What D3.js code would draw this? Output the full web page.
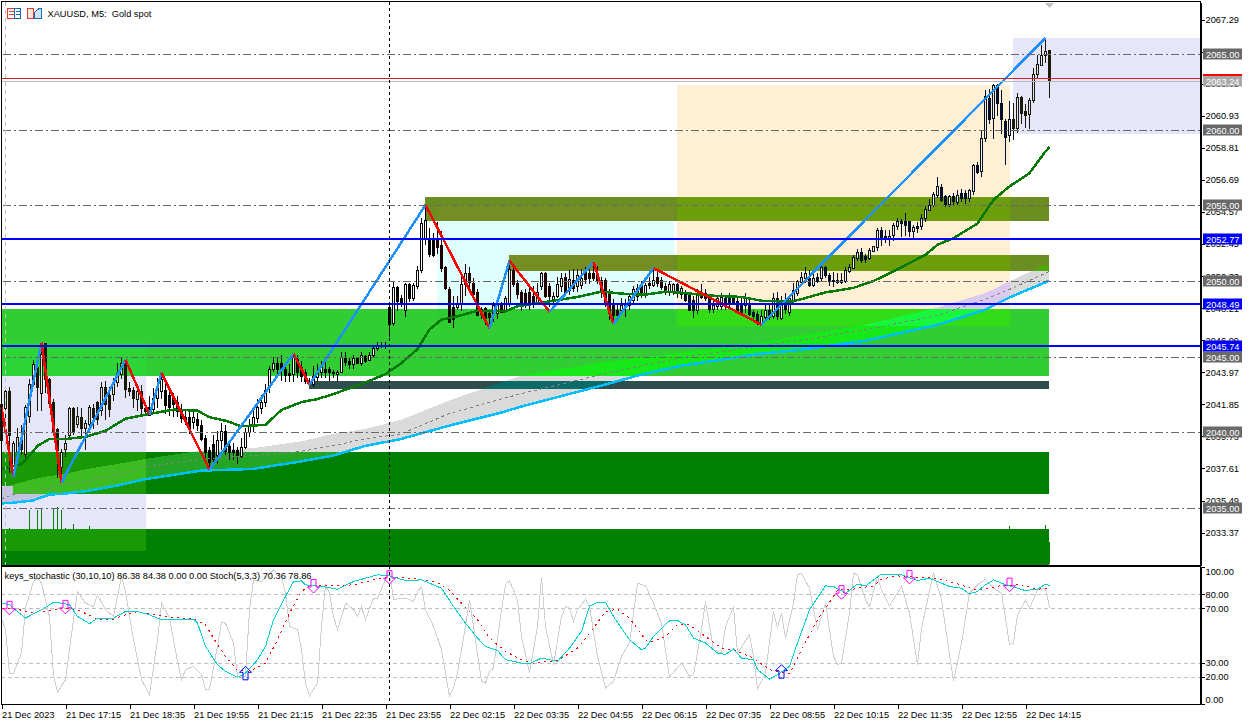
<!DOCTYPE html>
<html>
<head>
<meta charset="utf-8">
<script src="https://cdn.jsdelivr.net/npm/d3@7"></script>
<style>
html, body { margin: 0; padding: 0; background: #fff; overflow: hidden; }
text { font-family: "Liberation Sans", sans-serif; font-size: 9.25px; fill: #000; }
</style>
</head>
<body>
<svg id="drawing_region"></svg>
<script>
// candles, one entry per M5 bar
const opens = [
  2041.9,2041.6,2042.7,2037.3,2038.8,2039.7,2038.6,2041.1,2043.2,2044.3,
  2042.6,2045.9,2043.5,2042,2040.2,2037.7,2038.9,2039.8,2041.6,2040.6,
  2041,2040.3,2040.6,2041.6,2042,2041.5,2043,2042.5,2042.5,2043.3,
  2043.9,2044.8,2042.9,2042.8,2042.2,2042.7,2041.6,2041.7,2041.6,2042.3,
  2042.7,2042.8,2042.5,2042.3,2042,2041.5,2041,2041,2040.7,2040.9,
  2040.5,2039.6,2038.8,2039.2,2038.5,2039.5,2040.1,2039.1,2038.8,2038.8,
  2038.4,2039,2040,2040.5,2041,2041.6,2042,2043,2044.2,2044.6,
  2044.6,2044.2,2043.9,2043.9,2044.85,2044.3,2044,2043.4,2043.2,2043.7,
  2044,2044.2,2044.2,2044,2043.9,2044,2045,2044.7,2044.5,2044.9,
  2044.6,2045.05,2044.8,2045.1,2045.6,2045.7,2045.75,2048.3,2047.2,2049.6,
  2048.9,2048.1,2049.8,2048.9,2049.7,2050.75,2052.8,2052.8,2052.8,2052.8,
  2052.4,2050.9,2049.5,2048.3,2048.3,2048.55,2049.8,2050.5,2049.9,2049.3,
  2048.15,2048.2,2047.9,2047.8,2047.9,2048.45,2048.05,2048.55,2050.75,2049.85,
  2049.25,2049.2,2049.25,2049,2048.65,2049.65,2050.5,2049.65,2048.7,2049,
  2049.65,2050.25,2049.4,2050.1,2049.65,2049.75,2050.65,2050.55,2050.5,2050.5,
  2050.1,2050.1,2049.2,2048.45,2048.1,2048.1,2048.3,2048.4,2048.8,2049,
  2049.65,2049.2,2049.85,2049.75,2050.25,2050.1,2049.65,2049.3,2049.3,2049.8,
  2049.15,2049.2,2049.2,2048.75,2048.1,2049.3,2049.2,2049,2048.15,2048.35,
  2048.35,2048.9,2048.9,2048.9,2048.65,2048.45,2048.45,2048.45,2047.95,2047.8,
  2047.2,2047.65,2048.1,2047.7,2048.9,2047.55,2048.65,2048,2048.75,2049.2,
  2050,2050.2,2050.2,2049.75,2050.3,2050.2,2050.95,2050.4,2050.1,2050.1,
  2050.1,2050,2050.65,2050.9,2051.5,2051.9,2051.65,2051.5,2052,2052.3,
  2053.4,2053,2052.8,2053.05,2053.65,2053.95,2053.95,2053.95,2053.3,2053.65,
  2053.6,2054.15,2054.75,2055.05,2055.7,2056.25,2055.6,2055.05,2055.6,2055.25,
  2055.8,2055.8,2055.5,2055.95,2057.7,2057.25,2059.45,2062.1,2060.75,2062.95,
  2061.75,2060.6,2059.65,2060.7,2060.1,2062.15,2061.25,2061.1,2062,2063.7,
  2064.3,2064.95,2065.25
];
const closes = [
  2039.5,2042.7,2039.8,2039.3,2039.7,2038.9,2041.7,2043.2,2044.5,2043,
  2045.2,2043.5,2041.9,2040.1,2038.8,2038.7,2039.3,2041.6,2040,2041.1,
  2040.3,2040.6,2041.7,2041,2040.9,2043,2041.9,2041.6,2043.3,2043.9,
  2044.6,2042.9,2042.7,2042.3,2042.7,2041.6,2041.4,2041.2,2042.3,2043,
  2043.5,2041.8,2041.7,2041.9,2041.4,2041,2040.9,2040.2,2041,2040.5,
  2039.6,2038.7,2038,2038.2,2039.5,2040.1,2038.8,2038.7,2038.7,2038.5,
  2039,2040,2040.4,2041,2041.7,2042,2042.8,2044.2,2044.6,2044.2,
  2044.2,2043.8,2043.8,2045,2044,2043.7,2043.4,2043.2,2043.7,2044,
  2044.3,2044,2044,2043.95,2044,2045,2044.7,2044.5,2044.9,2044.6,
  2045.1,2044.75,2045.1,2045.55,2045.7,2045.75,2045.8,2047.2,2049.6,2048.65,
  2048.6,2049.8,2048.9,2049.75,2050.75,2053.85,2054.05,2051.8,2051.75,2052.25,
  2050.9,2049.5,2047.35,2047.5,2048.55,2049.8,2050.5,2049.9,2049.2,2047.8,
  2047.8,2047.55,2047.65,2048.4,2048.4,2048,2048.9,2050.8,2049.85,2049.1,
  2048.3,2048.55,2048.55,2048.55,2049.3,2050.5,2049,2049,2049,2049.8,
  2050.2,2049.25,2050.15,2049.55,2050.4,2050.2,2050.15,2050.2,2050.15,2050.05,
  2049.3,2048.55,2047.9,2047.8,2047.8,2048.45,2048.55,2049,2049.5,2049.55,
  2049.2,2049.75,2049.75,2050.1,2049.85,2049.65,2049.3,2049.8,2049.8,2049.3,
  2049.55,2048.75,2048.05,2048.1,2049.2,2049,2048.9,2048.15,2048.4,2048.9,
  2048.95,2048.35,2048.55,2048.65,2048,2047.9,2048.95,2047.85,2047.7,2047.25,
  2047.7,2048.1,2047.65,2048.9,2047.7,2048.65,2048.1,2048.9,2049.4,2050,
  2050.3,2050.5,2049.75,2050.2,2050.05,2050.95,2050.4,2050,2050.05,2050,
  2049.95,2050.75,2050.9,2051.6,2051.9,2051.4,2051.45,2052.05,2052.3,2053.4,
  2052.9,2052.8,2053,2053.7,2053.95,2053.8,2053.7,2053.3,2053.55,2053.55,
  2054.15,2054.75,2055.05,2055.75,2056.3,2055.4,2055.05,2055.6,2055.25,2055.7,
  2055.5,2055.5,2056,2057.7,2057.25,2059.45,2062.25,2060.7,2062.95,2061.75,
  2060.7,2059.55,2060.7,2060.1,2062.15,2061.1,2061,2062,2063.7,2064.35,
  2064.95,2065.2,2063.24
];
const highs = [
  2042.1,2042.9,2043,2039.4,2040.3,2040.5,2041.8,2043.5,2044.8,2045,
  2045.93,2045.9,2043.6,2042.2,2040.3,2038.9,2039.8,2041.7,2041.7,2041.7,
  2041.6,2040.8,2041.8,2041.9,2042.1,2043.3,2043.4,2043,2043.6,2044.6,
  2045,2044.8,2043.3,2043,2043.1,2043.1,2041.9,2042.4,2042.9,2043.6,
  2043.94,2043.5,2043,2042.6,2042.4,2041.9,2041.4,2041.5,2041.4,2041.3,
  2040.8,2039.8,2039,2039.8,2040.1,2040.6,2040.5,2039.4,2039.3,2039,
  2039.6,2040.3,2040.9,2041.6,2042.2,2042.5,2043.2,2044.4,2045,2045,
  2045.1,2044.6,2044.5,2045.2,2045.1,2044.7,2044.2,2043.6,2044.4,2044.5,
  2044.7,2044.7,2044.3,2044.1,2044.1,2045.3,2045.3,2044.9,2045.1,2045,
  2045.3,2045.1,2045.3,2045.7,2046,2046,2046,2048.4,2050,2049.7,
  2049.1,2049.9,2049.9,2049.9,2051,2054.2,2055.03,2053.5,2053.2,2053.9,
  2053.3,2051,2049.6,2049,2049,2050.3,2051.1,2050.9,2050.2,2049.5,
  2048.3,2048.3,2048.1,2048.6,2048.9,2048.6,2049,2051.34,2051.1,2050.1,
  2049.4,2049.5,2049.8,2049.7,2049.9,2050.6,2050.6,2049.9,2049.3,2050.3,
  2050.5,2050.5,2050.75,2050.8,2050.8,2050.8,2050.9,2050.8,2051.26,2051,
  2050.3,2050.2,2049.5,2048.8,2048.5,2048.9,2048.8,2049.2,2049.7,2049.8,
  2050,2049.9,2050.3,2050.86,2050.8,2050.3,2049.9,2050,2049.85,2049.9,
  2049.7,2049.4,2049.3,2049,2049.5,2049.8,2049.5,2049.1,2048.7,2049.1,
  2049.2,2049.1,2049.2,2049.1,2048.9,2048.9,2049.2,2048.9,2048.1,2048,
  2048.1,2048.5,2048.5,2049.2,2049.3,2049,2049.2,2049.1,2049.9,2050.1,
  2050.6,2050.9,2050.7,2050.7,2050.5,2051,2051,2050.5,2050.6,2050.5,
  2050.5,2050.9,2051.1,2051.7,2052.1,2052.2,2051.8,2052.2,2052.35,2053.5,
  2053.55,2053.4,2053.4,2053.85,2054.2,2054.1,2054.5,2054,2053.7,2053.9,
  2054.4,2054.95,2055.4,2055.9,2056.9,2056.4,2055.7,2055.7,2055.8,2056,
  2056.1,2056,2056.1,2057.75,2057.9,2059.9,2062.6,2062.7,2063,2063,
  2062.6,2060.7,2061.9,2061.8,2062.4,2062.25,2061.7,2062.1,2064.1,2064.95,
  2065.6,2066.07,2065.3
];
const lows = [
  2038.5,2040.4,2037.3,2037.07,2038.4,2038.5,2038.3,2040.6,2043,2041.4,
  2041.4,2042.6,2041.6,2039.9,2037,2036.67,2038.4,2039.5,2039.8,2040.3,
  2039.7,2038.8,2040.4,2040.2,2040.5,2041.1,2040.8,2041,2042.1,2043,
  2043.5,2042.3,2042.4,2041.6,2041.4,2041.1,2041.1,2041.17,2041.3,2041.6,
  2042.2,2041.2,2041.1,2041,2041,2040.6,2040.5,2039.9,2040.2,2040.1,
  2039.4,2038.3,2037.53,2037.8,2037.9,2038.8,2038.5,2038.2,2038.2,2037.9,
  2038.3,2038.9,2039.7,2040,2040.6,2041.2,2041.7,2042.6,2044,2043.8,
  2043.4,2043.3,2043.3,2043.3,2043.6,2043.3,2043.2,2043.15,2043,2043.4,
  2043.6,2043.6,2043.4,2043.6,2043.3,2043.9,2044.4,2044.2,2044.2,2044.5,
  2044.4,2044.6,2044.7,2045,2045.4,2045.6,2045.5,2046.3,2047,2048,
  2048.3,2047.6,2048.6,2048.7,2049.5,2050.5,2052.4,2051.6,2051.6,2051.8,
  2050.6,2049.4,2047.3,2046.9,2048.1,2048,2049,2049.3,2049,2047.7,
  2047.5,2047.1,2046.87,2047.3,2047.5,2047.9,2047.9,2048.3,2049.6,2048.8,
  2048,2048.2,2048.1,2048.2,2048.5,2049.4,2048.9,2048.3,2048.3,2048.9,
  2049.3,2049,2049.1,2049.3,2049.3,2049.5,2049.8,2049.8,2050,2049.8,
  2048.9,2048.3,2047.4,2047.16,2047.5,2047.8,2047.6,2048.1,2048.5,2048.7,
  2048.9,2048.9,2049.5,2049.6,2049.6,2049.4,2049.1,2049,2049.1,2048.9,
  2048.8,2048.6,2048,2047.55,2047.8,2048.8,2048.7,2047.9,2047.9,2048.1,
  2048.1,2048.1,2048.3,2048.4,2047.9,2047.8,2047.9,2047.7,2047.4,2047.1,
  2047.11,2047.4,2047.4,2047.5,2047.4,2047.4,2047.8,2047.7,2048.6,2049,
  2049.7,2049.9,2049.6,2049.6,2049.9,2050,2050.2,2049.7,2049.6,2049.8,
  2049.8,2049.85,2050.5,2050.8,2051.3,2051.2,2051.2,2051.4,2051.9,2052,
  2052.3,2052.5,2052.3,2052.65,2053.4,2052.9,2053,2052.9,2052.8,2053.2,
  2053.4,2053.9,2054.6,2054.9,2055.5,2055.2,2054.9,2054.9,2055,2055,
  2055.25,2055.1,2055.2,2055.7,2057.1,2056.9,2059.2,2060.4,2059.4,2060.9,
  2059.7,2057.65,2059.2,2059.3,2059.8,2060.4,2060.1,2060.05,2061.75,2063.45,
  2064.25,2064.4,2062.1
];

// visible tick volumes at the foot of the main pane
const volumeBars = [2,3,7,9,10,13,14,15,16,18,22,252,261,262];
const volumeValues = [360,355,540,545,550,560,570,540,360,400,380,380,390,220];

// green moving average
const maBars = [0,5,7,9,12,16,21,26,31,36,43,49,52,56,60,66,70,75,79,83,91,96,100,104,107,110,114,119,126,129,137,144,150,156,161,166,171,178,185,190,195,198,206,213,218,223,231,234,238,244,248,252,257,261,262];
const maValues = [2037.58,2037.9,2038.46,2039.1,2039.56,2039.56,2039.7,2040.1,2040.9,2041.17,2041.5,2041.43,2041,2040.77,2040.4,2040.5,2041.48,2042,2042.2,2042.53,2043.3,2043.85,2044.58,2045.5,2046.8,2047.45,2047.67,2048.04,2048,2048.33,2048.66,2048.95,2049.3,2049.15,2049.1,2049.3,2049.2,2049.03,2048.95,2048.7,2048.65,2048.66,2049.25,2049.55,2050,2050.64,2051.74,2052.4,2052.84,2053.8,2055.37,2056.26,2057.14,2058.57,2058.85];

// slow average ribbon: upper edge, dashed middle, light blue lower edge
const ribbonBars = [0,3,8,12,16,21,29,36,50,63,75,83,91,100,112,125,130,150,160,170,190,200,216,234,246,252,262];
const ribbonUpper = [2036.37,2036.54,2036.9,2037.1,2037.25,2037.55,2037.9,2038.24,2038.79,2038.95,2039.4,2039.89,2040.22,2040.83,2042.1,2043.3,2043.74,2044.6,2044.95,2045.26,2045.93,2046.4,2047.1,2048.24,2049.2,2049.96,2051.2];
const ribbonMiddle = [2035.6,2035.88,2036.1,2036.3,2036.54,2036.75,2037.2,2037.7,2038.24,2038.46,2038.74,2039.12,2039.56,2039.89,2041.23,2042.2,2042.55,2043.81,2044.4,2044.93,2045.73,2046.1,2046.78,2047.71,2048.8,2049.43,2050.62];
const ribbonLower = [2035.3,2035.35,2035.5,2035.88,2035.95,2036.1,2036.48,2036.9,2037.47,2037.58,2038.08,2038.46,2039.1,2039.56,2040.44,2041.3,2041.7,2043.08,2043.81,2044.4,2045.2,2045.46,2046.05,2047.1,2048.1,2048.9,2050.02];

// zigzag swing points
const zigBars = [0,3,10,15,31,37,40,52,73,77,106,122,127,137,148,153,163,190,261];
const zigPrices = [2041.63,2037.07,2045.93,2036.67,2044.8,2041.17,2043.94,2037.53,2045.2,2043.15,2055.03,2046.87,2051.34,2047.97,2051.26,2047.16,2050.86,2047.11,2066.07];

// zones: first bar, last bar, top price, bottom price
const zoneFrom = [0,0,3,0,77,0,109,106,127,169,253];
const zoneTo = [262,3,262,36.25,262,262,168.25,262,262,252.25,299.75];
const zoneTop = [2048.17,2038.72,2038.72,2045.99,2043.41,2033.63,2055.03,2055.58,2051.74,2062.98,2066.1];
const zoneBottom = [2043.74,2036.43,2035.9,2032.18,2042.88,2031.23,2047.05,2053.99,2050.68,2047.05,2059.7];
const zoneColor = [0x32CD32,0x008000,0x008000,0xE6E6FA,0x2F4F4F,0x008000,0xE0FFFF,0x6B8E23,0x6B8E23,0xFFEFD5,0xE6E6FA];
const paleZones = [3,6,9,10];

const roundLevels = [2065,2060,2055,2050,2045,2040,2035];
const supportLevels = [2052.77,2048.49,2045.74];
const bidPrice = 2063.24;
const askPrice = 2063.33;
const priceTicks = [2067.29,2065.17,2063.05,2060.93,2058.81,2056.69,2054.57,2052.45,2050.33,2048.21,2046.09,2043.97,2041.85,2039.73,2037.61,2035.49,2033.37];

const timeBars = [0,16,32,48,64,80,96,112,128,144,160,176,192,208,224,240,256];
const timeLabels = ['21 Dec 2023','21 Dec 17:15','21 Dec 18:35','21 Dec 19:55','21 Dec 21:15','21 Dec 22:35','21 Dec 23:55','22 Dec 02:15','22 Dec 03:35','22 Dec 04:55','22 Dec 06:15','22 Dec 07:35','22 Dec 08:55','22 Dec 10:15','22 Dec 11:35','22 Dec 12:55','22 Dec 14:15'];
const crosshairBar = 97;

// stochastic pane
const osLevels = [80,70,30,20];
const osTicks = [100,80,70,30,20,0];
const stochBars = [0,1,2,3,5,6,8,9,10,12,13,14,16,18,19,21,23,24,26,28,30,31,33,34,35,37,39,40,42,44,45,46,48,50,51,52,54,55,56,58,59,61,62,63,65,68,70,71,72,74,75,76,77,79,80,81,82,83,84,86,88,89,90,91,93,94,97,98,100,101,103,104,
  105,106,108,110,111,112,113,114,116,117,118,120,121,122,123,125,126,127,129,130,132,134,135,136,138,140,141,142,143,144,146,147,149,151,153,155,157,159,161,163,165,167,170,172,173,175,176,178,180,181,183,184,187,188,189,191,193,194,195,196,198,199,200,202,204,206,208,
  209,210,212,213,214,216,217,219,220,222,225,227,229,230,233,235,238,240,242,244,246,248,250,251,252,253,254,256,257,259,261,262];
const stochValues = [62.7,54.2,22.6,22.6,37.2,70,89.4,91.8,88.2,63.9,20.2,8.5,17.7,61.5,82.1,73.6,71.2,79.7,68.8,63.9,93,82.1,46.9,32.3,17.7,6.8,46.9,73.6,62.7,31.1,17.7,25,27.5,21.4,10.9,10.9,42,59.5,59,44.5,20.2,20.2,68.8,90.6,89.4,97.9,93,80.9,56.6,54.2,39.6,15.3,6.1,15.3,56.6,87,80.9,63.9,54.2,73.6,68.8,63.9,71.2,61.5,77.3,77.3,97.9,76,77.3,77.3,74.8,82.1,
  85.8,68.8,56.6,39.6,22.6,5.6,11.7,22.6,56.6,76,56.6,16.5,15.3,23.8,26.2,68.8,87,89.9,76,49.3,22.6,56.6,93,56.6,28.7,63.9,71.2,70,60.3,68.8,76.5,71.2,34.7,11.7,16.5,34.7,44.5,88.2,86.2,73.6,59,19.7,29.9,20.2,21.4,54.2,74.8,39.6,37.2,56.6,71.2,37.2,50.5,34.7,10.9,22.6,67.5,55.4,66.3,48.1,73.6,94.3,95.5,84.5,54.2,73.6,34.7,
  28.7,29.9,66.3,95.5,94.3,76,71.2,93,83.3,71.7,85.8,66.3,28.7,55.4,96,76,16.5,44.5,80.9,87,91.1,84.5,80.9,62.7,43.2,44.5,65.1,75.6,70,83.3,84.5,70.36];

const keysBars = [0,2,4,6,8,10,13,15,17,19,22,24,28,31,34,37,40,48,49,51,54,56,59,61,64,66,68,71,73,75,76,80,84,88,94,97,101,105,
  107,110,113,116,117,119,121,124,126,130,132,135,139,142,145,147,149,151,153,157,160,161,163,167,169,171,173,176,179,181,183,185,188,189,192,194,197,199,202,206,208,
  211,214,216,220,225,229,232,237,240,242,244,246,248,251,256,259,261,262];
const keysValues = [73.6,72.4,67.5,62.7,65.8,68.8,74.1,73.6,72.4,63.9,58.6,62.7,62.7,67.5,67.5,65.1,61.5,62,59,42,28.7,23.8,19.4,22.6,32.3,42,61.5,78.5,89.4,89.9,87,85.8,83.8,89.4,94.3,93.5,90.1,90.6,
  88.2,84.5,71.2,59,55.4,48.1,42,39.1,32.3,29.9,29.4,33.5,31.1,40.8,53,71.2,74.3,74.3,63.9,46.9,39.6,40.8,49.3,60.7,61,57.8,48.1,44.5,37.2,36.2,40.1,33.5,32.3,25,18.2,21.4,27.5,44.5,68.8,86.2,85.8,
  80.9,87.5,86.2,94.8,94.3,90.1,91.8,85.8,84.5,80.4,82.1,87,90.6,87,82.8,83.8,87.5,86.38];

const signalBars = [0,3,7,11,15,19,24,28,31,34,39,42,48,51,53,56,59,62,66,69,72,75,77,83,88,93,97,105,
  109,112,115,119,122,126,130,133,139,144,148,151,154,157,161,162,166,169,172,176,180,184,188,192,197,200,204,208,
  209,212,214,218,220,224,229,234,239,244,250,255,259,262];
const signalValues = [70,70,66.8,67.5,70,68.8,62,62,65.1,67.5,65.1,63.4,62,57.8,48.1,34.7,24.5,23.8,29.9,46.9,66.3,82.1,86.2,86.2,87,90.6,93,91.1,
  88.7,82.8,73.6,61.5,48.1,38.4,32.3,29.9,31.6,40.8,55.4,67.5,69.2,62.7,46.9,44.9,49.3,57.8,57.8,49.3,40.8,38.4,33.5,25,22.1,39.6,61.5,78.5,
  83.3,83.3,84.5,86.2,91.1,93.5,92.6,91.8,87.7,82.8,86.5,87,83.8,84.38];

const downArrowBars = [2,16,78,97,210,227,252];
const downArrowValues = [65.1,65.8,81,87.5,76.5,87.7,82];
const upArrowBars = [61,195];
const upArrowValues = [27.5,28.7];

const width = 1255;
const height = 722;
const plotLeft = 1;
const plotRight = 1200;
const mainTop = 2;
const mainBottom = 565;
const subTop = 567;
const subBottom = 704;

const svg = d3.select('#drawing_region')
  .attr('width', width)
  .attr('height', height)
  .style('display', 'block');

const xscale = d3.scaleLinear().domain([0, 262]).range([1, 1049]);
const yscale = d3.scaleLinear().domain([2031.23, 2068.447]).range([mainBottom, mainTop]);
const oscale = d3.scaleLinear().domain([0, 100]).range([subBottom, subTop]);
const volscale = d3.scaleLinear().domain([0, 600]).range([mainBottom - 1, 504]);

// the terminal paints rectangles by xor against the inverted colour
const mask = c => ~c & 0xFFFFFF;
const hex = c => '#' + c.toString(16).padStart(6, '0');

const zones = zoneFrom.map((d, i) => ({
  x0: Math.round(xscale(d)), x1: Math.round(xscale(zoneTo[i])),
  y0: Math.round(yscale(zoneTop[i])), y1: Math.round(yscale(zoneBottom[i])),
  color: zoneColor[i]
}));

const xedges = Array.from(new Set([plotLeft, plotRight].concat(zones.flatMap(z => [z.x0, z.x1])))).sort(d3.ascending);
const yedges = Array.from(new Set([mainTop, mainBottom].concat(zones.flatMap(z => [z.y0, z.y1])))).sort(d3.ascending);

const cells = [];
d3.pairs(xedges).forEach(([a, b]) => {
  d3.pairs(yedges).forEach(([c, d]) => {
    let color = 0xFFFFFF;
    zones.forEach(z => {
      if (z.x0 <= a && z.x1 >= b && z.y0 <= c && z.y1 >= d) color ^= mask(z.color);
    });
    cells.push({x0: a, x1: b, y0: c, y1: d, color: color});
  });
});

const defs = svg.append('defs');
const backdrop = svg.append('g').attr('shape-rendering', 'crispEdges');

backdrop.selectAll('rect').data(cells).enter().append('rect')
  .attr('x', d => d.x0)
  .attr('y', d => d.y0)
  .attr('width', d => d.x1 - d.x0)
  .attr('height', d => d.y1 - d.y0)
  .attr('fill', d => hex(d.color));

// ribbon, split over the cells so it can xor with what is under it
const ribbonColor = 0xDADADA;
const ribbonData = ribbonBars.map((d, i) => ({bar: d, top: ribbonUpper[i], mid: ribbonMiddle[i], low: ribbonLower[i]}));
const ribbonArea = d3.area()
  .x(d => xscale(d.bar))
  .y0(d => yscale(d.low))
  .y1(d => yscale(d.top));
const ribbonLayer = svg.append('g').attr('shape-rendering', 'crispEdges');
cells.filter(d => d.x0 < xscale(262) && d.y0 < yscale(2035) && d.y1 > yscale(2052)).forEach((d, i) => {
  const id = 'cell' + i;
  defs.append('clipPath').attr('id', id).append('rect')
    .attr('x', d.x0).attr('y', d.y0)
    .attr('width', d.x1 - d.x0).attr('height', d.y1 - d.y0);
  ribbonLayer.append('path')
    .attr('clip-path', `url(#${id})`)
    .attr('d', ribbonArea(ribbonData))
    .attr('fill', hex(d.color ^ mask(ribbonColor)));
});

// volumes, only the part above the lower green zone shows
const volumeFoot = d => d === 262 ? mainBottom - 1 : zones[5].y0;
svg.append('g').selectAll('line').data(volumeBars).enter().append('line')
  .attr('x1', d => xscale(d) + 0.5)
  .attr('x2', d => xscale(d) + 0.5)
  .attr('y1', d => volumeFoot(d))
  .attr('y2', (d, i) => volscale(volumeValues[i]))
  .attr('stroke', '#008000')
  .attr('shape-rendering', 'crispEdges');

// level lines and the two session markers
const levels = svg.append('g').attr('shape-rendering', 'crispEdges');
levels.selectAll('line.round').data(roundLevels).enter().append('line')
  .attr('class', 'round')
  .attr('x1', plotLeft + 2).attr('x2', plotRight)
  .attr('y1', d => Math.round(yscale(d)) + 0.5)
  .attr('y2', d => Math.round(yscale(d)) + 0.5)
  .attr('stroke', '#696969')
  .attr('stroke-dasharray', '8,3,2,3');

levels.append('line')
  .attr('x1', 5.5).attr('x2', 5.5)
  .attr('y1', mainTop).attr('y2', mainBottom)
  .attr('stroke', '#c0c0c0')
  .attr('stroke-dasharray', '4,4');

// candles pick up the tint of any pale zone they sit in
const paleMask = (x, y) => {
  let m = 0;
  paleZones.forEach(i => {
    const z = zones[i];
    if (x >= z.x0 && x < z.x1 && y >= z.y0 && y < z.y1) m ^= mask(z.color);
  });
  return m;
};

const bars = opens.map((d, i) => ({bar: i, open: d, high: highs[i], low: lows[i], close: closes[i]}));
const candles = svg.append('g').attr('shape-rendering', 'crispEdges');
const tint = d => paleMask(xscale(d.bar), yscale((d.open + d.close) / 2));

candles.selectAll('line').data(bars).enter().append('line')
  .attr('x1', d => xscale(d.bar) + 0.5)
  .attr('x2', d => xscale(d.bar) + 0.5)
  .attr('y1', d => yscale(d.high))
  .attr('y2', d => yscale(d.low))
  .attr('stroke', d => hex(tint(d)));

candles.selectAll('rect').data(bars).enter().append('rect')
  .attr('x', d => xscale(d.bar) - 0.5)
  .attr('y', d => Math.round(yscale(Math.max(d.open, d.close))) + 0.5)
  .attr('width', 2)
  .attr('height', d => Math.max(1, Math.round(Math.abs(yscale(d.open) - yscale(d.close)))))
  .attr('stroke', d => hex(tint(d)))
  .attr('fill', d => d.close >= d.open ? hex(0xFFFFFF ^ tint(d)) : hex(tint(d)));

// ribbon middle
svg.append('path')
  .attr('d', d3.line().x(d => xscale(d.bar)).y(d => yscale(d.mid))(ribbonData))
  .attr('fill', 'none')
  .attr('stroke', '#808080')
  .attr('stroke-dasharray', '3,3')
  .attr('shape-rendering', 'crispEdges');

// light blue slow average
svg.append('path')
  .attr('d', d3.line().x(d => xscale(d.bar)).y(d => yscale(d.low))(ribbonData))
  .attr('fill', 'none')
  .attr('stroke', '#00bfff')
  .attr('stroke-width', 2.5)
  .attr('shape-rendering', 'crispEdges');

// green average
svg.append('path')
  .attr('d', d3.line().x((d, i) => xscale(d) + 0.5).y((d, i) => yscale(maValues[i]))(maBars))
  .attr('fill', 'none')
  .attr('stroke', '#067a06')
  .attr('stroke-width', 2.5)
  .attr('shape-rendering', 'crispEdges');

// zigzag legs
const legs = d3.pairs(d3.zip(zigBars, zigPrices));
svg.append('g').selectAll('line').data(legs).enter().append('line')
  .attr('x1', d => xscale(d[0][0]) + 0.5)
  .attr('y1', d => yscale(d[0][1]))
  .attr('x2', d => xscale(d[1][0]) + 0.5)
  .attr('y2', d => yscale(d[1][1]))
  .attr('stroke', d => d[1][1] > d[0][1] ? '#1e90ff' : '#ff0000')
  .attr('stroke-width', 2.5)
  .attr('shape-rendering', 'crispEdges');

// support lines and bid/ask
levels.raise();
const overlays = svg.append('g').attr('shape-rendering', 'crispEdges');
overlays.selectAll('line.support').data(supportLevels).enter().append('line')
  .attr('class', 'support')
  .attr('x1', plotLeft).attr('x2', plotRight)
  .attr('y1', d => Math.round(yscale(d)))
  .attr('y2', d => Math.round(yscale(d)))
  .attr('stroke', '#0000ff')
  .attr('stroke-width', 2);
overlays.append('line')
  .attr('x1', plotLeft).attr('x2', plotRight)
  .attr('y1', Math.round(yscale(askPrice)) - 0.5).attr('y2', Math.round(yscale(askPrice)) - 0.5)
  .attr('stroke', '#d02020');
overlays.append('line')
  .attr('x1', plotLeft).attr('x2', plotRight)
  .attr('y1', Math.round(yscale(bidPrice)) + 0.5).attr('y2', Math.round(yscale(bidPrice)) + 0.5)
  .attr('stroke', '#b8b8b8');

// stochastic pane
const sub = svg.append('g');
sub.append('g').attr('shape-rendering', 'crispEdges').selectAll('line').data(osLevels).enter().append('line')
  .attr('x1', plotLeft).attr('x2', plotRight)
  .attr('y1', d => Math.round(oscale(d)) + 0.5)
  .attr('y2', d => Math.round(oscale(d)) + 0.5)
  .attr('stroke', '#c0c0c0')
  .attr('stroke-dasharray', '4,3');

const osLine = values => d3.line().x(d => xscale(d) + 0.5).y((d, i) => oscale(values[i]));

sub.append('path')
  .attr('d', osLine(stochValues)(stochBars))
  .attr('fill', 'none')
  .attr('stroke', '#cfcfcf')
  .attr('shape-rendering', 'crispEdges');
sub.append('path')
  .attr('d', osLine(signalValues)(signalBars))
  .attr('fill', 'none')
  .attr('stroke', '#ff0000')
  .attr('stroke-dasharray', '2,4')
  .attr('shape-rendering', 'crispEdges');
sub.append('path')
  .attr('d', osLine(keysValues)(keysBars))
  .attr('fill', 'none')
  .attr('stroke', '#00ced1')
  .attr('shape-rendering', 'crispEdges');

// arrows, dir -1 points down, +1 points up; the tip sits on the value
const arrowPath = (bar, value, dir) => {
  const cx = xscale(bar) + 0.5;
  const tip = oscale(value);
  const s = dir < 0 ? -1 : 1;
  const p = d3.path();
  p.moveTo(cx, tip);
  p.lineTo(cx + 6, tip + s * 6);
  p.lineTo(cx + 2.5, tip + s * 6);
  p.lineTo(cx + 2.5, tip + s * 13.5);
  p.lineTo(cx - 2.5, tip + s * 13.5);
  p.lineTo(cx - 2.5, tip + s * 6);
  p.lineTo(cx - 6, tip + s * 6);
  p.closePath();
  return p.toString();
};

sub.selectAll('path.down').data(downArrowBars).enter().append('path')
  .attr('class', 'down')
  .attr('d', (d, i) => arrowPath(d, downArrowValues[i], -1))
  .attr('fill', 'none')
  .attr('stroke', '#ff00ff');
sub.selectAll('path.up').data(upArrowBars).enter().append('path')
  .attr('class', 'up')
  .attr('d', (d, i) => arrowPath(d, upArrowValues[i], 1))
  .attr('fill', 'none')
  .attr('stroke', '#0000ff');

// crosshair through both panes
svg.append('line')
  .attr('x1', xscale(crosshairBar) + 0.5).attr('x2', xscale(crosshairBar) + 0.5)
  .attr('y1', mainTop).attr('y2', subBottom)
  .attr('stroke', '#000')
  .attr('stroke-dasharray', '3,3')
  .attr('shape-rendering', 'crispEdges');

// last bar marker
svg.append('path')
  .attr('d', `M${xscale(262) - 4},3 L${xscale(262) + 5},3 L${xscale(262) + 0.5},8 Z`)
  .attr('fill', '#c0c0c0');

// frames
const frames = svg.append('g').attr('shape-rendering', 'crispEdges');
[[mainTop, mainBottom], [subTop, subBottom]].forEach(([t, b]) => {
  frames.append('rect')
    .attr('x', plotLeft + 0.5).attr('y', t + 0.5 - 1)
    .attr('width', plotRight - plotLeft).attr('height', b - t + 1)
    .attr('fill', 'none')
    .attr('stroke', '#000');
});

// axes
const priceAxis = d3.axisRight(yscale)
  .tickValues(priceTicks)
  .tickFormat(d3.format('.2f'))
  .tickSize(4)
  .tickPadding(1)
  .tickSizeOuter(0);
svg.append('g')
  .attr('transform', `translate(${plotRight + 0.5},0)`)
  .call(priceAxis)
  .attr('shape-rendering', 'crispEdges');

const osAxis = d3.axisRight(oscale)
  .tickValues(osTicks)
  .tickFormat(d3.format('.2f'))
  .tickSize(4)
  .tickPadding(1)
  .tickSizeOuter(0);
const osAxisGroup = svg.append('g')
  .attr('transform', `translate(${plotRight + 0.5},0)`)
  .call(osAxis)
  .attr('shape-rendering', 'crispEdges');
osAxisGroup.selectAll('text')
  .attr('dy', d => d === 100 ? '0.85em' : d === 0 ? '-0.15em' : '0.32em');

const timeAxis = d3.axisBottom(xscale)
  .tickValues(timeBars)
  .tickFormat((d, i) => timeLabels[i])
  .tickSize(4)
  .tickPadding(3)
  .tickSizeOuter(0);
const timeAxisGroup = svg.append('g')
  .attr('transform', `translate(0.5,${subBottom + 0.5})`)
  .call(timeAxis)
  .attr('shape-rendering', 'crispEdges');
timeAxisGroup.selectAll('text').attr('text-anchor', 'start').attr('x', 0);
timeAxisGroup.select('.domain').remove();

d3.selectAll('.tick text').style('font-size', '9.25px').style('font-family', '"Liberation Sans", sans-serif');

// price tags on the axis
const tagData = roundLevels.map(d => ({price: d, fill: '#696969'}))
  .concat(supportLevels.map(d => ({price: d, fill: '#0000ff'})))
  .concat([{price: bidPrice, fill: '#a8a8a8'}]);
const tags = svg.append('g').selectAll('g').data(tagData).enter().append('g')
  .attr('transform', d => `translate(1203,${Math.round(yscale(d.price))})`);
tags.append('rect')
  .attr('x', 0).attr('y', -5.5)
  .attr('width', 39).attr('height', 11)
  .attr('fill', d => d.fill);
tags.append('text')
  .attr('x', 3).attr('y', 3.5)
  .style('fill', '#fff')
  .text(d => d.price.toFixed(2));
svg.append('rect')
  .attr('x', 1203).attr('y', Math.round(yscale(askPrice)) - 5)
  .attr('width', 39).attr('height', 2)
  .attr('fill', '#ff0000');

// header texts and the two small icons
svg.append('text').attr('x', 47.5).attr('y', 17)
  .attr('xml:space', 'preserve')
  .text('XAUUSD, M5:  Gold spot');
svg.append('text').attr('x', 4.5).attr('y', 579)
  .text('keys_stochastic (30,10,10) 86.38 84.38 0.00 0.00 Stoch(5,3,3) 70.36 78.86');

const icons = svg.append('g').attr('fill', 'none').attr('shape-rendering', 'crispEdges');
icons.append('rect').attr('x', 7.5).attr('y', 8.5).attr('width', 7).attr('height', 10).attr('stroke', '#e53935');
icons.append('rect').attr('x', 14.5).attr('y', 8.5).attr('width', 6).attr('height', 10).attr('stroke', '#1565c0');
[11.5, 14.5].forEach(y => {
  icons.append('line').attr('x1', 9).attr('x2', 14).attr('y1', y).attr('y2', y).attr('stroke', '#e53935');
  icons.append('line').attr('x1', 16).attr('x2', 20).attr('y1', y).attr('y2', y).attr('stroke', '#1565c0');
});
icons.append('path').attr('d', 'M27.5,8.5 H33.5 V18.5 H27.5 Z M36.5,8.5').attr('stroke', '#e53935').attr('fill', '#fbe3e0');
icons.append('path').attr('d', 'M34.5,12.5 L39,8.5 H41.5 V18.5 H34.5 Z').attr('stroke', '#1565c0').attr('fill', '#cfe4f7');
</script>
</body>
</html>
